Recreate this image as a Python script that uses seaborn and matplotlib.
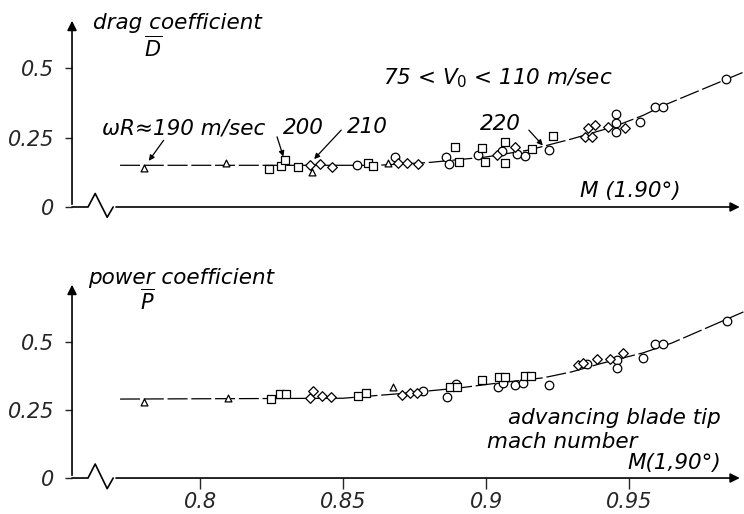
import numpy as np
import pandas as pd
import matplotlib
matplotlib.use('Agg')
import matplotlib.pyplot as plt
import seaborn as sns

# ---- data ----
# drag coefficient (top panel)
drag_circle_m = [0.8549, 0.8682, 0.8860, 0.8871, 0.8972, 0.9056, 0.9108, 0.9136, 0.9220,
                 0.9455, 0.9455, 0.9455, 0.9538, 0.9591, 0.9619, 0.9839]
drag_circle_d = [0.151, 0.180, 0.180, 0.155, 0.187, 0.201, 0.191, 0.183, 0.205,
                 0.335, 0.302, 0.270, 0.306, 0.360, 0.360, 0.460]
drag_square_m = [0.8241, 0.8283, 0.8297, 0.8343, 0.8587, 0.8605, 0.8892, 0.8906, 0.8986,
                 0.8997, 0.9066, 0.9066, 0.9161, 0.9234]
drag_square_d = [0.137, 0.147, 0.169, 0.144, 0.158, 0.147, 0.216, 0.162, 0.212,
                 0.162, 0.234, 0.158, 0.209, 0.255]
drag_diamond_m = [0.8385, 0.8420, 0.8462, 0.8692, 0.8724, 0.8762, 0.9038, 0.9101, 0.9346,
                  0.9371, 0.9357, 0.9381, 0.9427, 0.9486]
drag_diamond_d = [0.151, 0.155, 0.144, 0.158, 0.158, 0.155, 0.187, 0.216, 0.252,
                  0.252, 0.284, 0.295, 0.288, 0.284]
drag_triangle_m = [0.7804, 0.8091, 0.8392, 0.8657]
drag_triangle_d = [0.140, 0.158, 0.126, 0.158]
drag_fit_m = [0.772, 0.862, 0.880, 0.900, 0.915, 0.930, 0.945, 0.955, 0.962, 0.990]
drag_fit_d = [0.150, 0.150, 0.160, 0.180, 0.205, 0.245, 0.290, 0.330, 0.365, 0.485]

# power coefficient (bottom panel)
power_circle_m = [0.8780, 0.8864, 0.8895, 0.9042, 0.9060, 0.9101, 0.9130, 0.9220, 0.9353,
                  0.9458, 0.9458, 0.9549, 0.9590, 0.9619, 0.9843]
power_circle_p = [0.320, 0.298, 0.346, 0.335, 0.349, 0.342, 0.349, 0.342, 0.419,
                  0.434, 0.404, 0.441, 0.493, 0.493, 0.577]
power_square_m = [0.8248, 0.8280, 0.8300, 0.8553, 0.8580, 0.8874, 0.8899, 0.8986, 0.9045,
                  0.9066, 0.9136, 0.9157]
power_square_p = [0.290, 0.309, 0.309, 0.301, 0.312, 0.335, 0.335, 0.360, 0.371,
                  0.371, 0.375, 0.375]
power_diamond_m = [0.8385, 0.8395, 0.8427, 0.8458, 0.8706, 0.8734, 0.8759, 0.9322, 0.9340,
                   0.9388, 0.9434, 0.9479]
power_diamond_p = [0.294, 0.320, 0.301, 0.298, 0.305, 0.312, 0.312, 0.415, 0.423,
                   0.437, 0.437, 0.460]
power_triangle_m = [0.7804, 0.8098, 0.8675]
power_triangle_p = [0.279, 0.294, 0.335]
power_fit_m = [0.772, 0.850, 0.870, 0.890, 0.905, 0.920, 0.930, 0.940, 0.955, 0.965, 0.990]
power_fit_p = [0.290, 0.293, 0.310, 0.330, 0.350, 0.368, 0.390, 0.420, 0.460, 0.496, 0.610]

x_ticks = [0.8, 0.85, 0.9, 0.95]
x_tick_labels = ['0.8', '0.85', '0.9', '0.95']
y_ticks = [0, 0.25, 0.5]
y_tick_labels = ['0', '0.25', '0.5']

# axis break zigzag (M, fraction of a unit)
break_m = [0.7552, 0.7608, 0.7633, 0.7675, 0.7696]
break_y = [0.0, 0.0, 0.05, -0.038, 0.0]

xmin, xmax = 0.7552, 0.9902

sns.set_style('white')
plt.rcParams['font.family'] = ['DejaVu Sans']
plt.rcParams['mathtext.fontset'] = 'dejavusans'
plt.rcParams['mathtext.default'] = 'it'

fig = plt.figure(figsize=(7.44, 5.14), dpi=100)
ax_top = fig.add_axes([0.0968, 0.5973, 0.9032, 0.3677])
ax_bot = fig.add_axes([0.0968, 0.0700, 0.9032, 0.3814])

marker_style = {'circle': ('o', 38), 'square': ('s', 28), 'diamond': ('D', 24), 'triangle': ('^', 24)}


def make_frame(groups):
    parts = []
    for kind, (m, v) in groups.items():
        parts.append(pd.DataFrame({'M': m, 'val': v, 'kind': kind}))
    return pd.concat(parts, ignore_index=True)


def draw_panel(ax, df, fit_m, fit_v, ytop):
    sns.lineplot(x=fit_m, y=fit_v, color='black', lw=0.9, ax=ax, zorder=2)
    ax.lines[-1].set_dashes([16, 3])
    for kind, (mk, s) in marker_style.items():
        sub = df[df['kind'] == kind]
        if len(sub):
            sns.scatterplot(data=sub, x='M', y='val', marker=mk, s=s, color='white',
                            edgecolor='black', linewidth=0.9, ax=ax, zorder=3, legend=False)
    ax.set_xlim(xmin, xmax)
    ax.set_ylim(0, ytop)
    for sp in ax.spines.values():
        sp.set_visible(False)
    ax.set_xlabel('')
    ax.set_ylabel('')
    ax.set_yticks(y_ticks)
    ax.set_yticklabels(y_tick_labels, fontsize=15, style='italic')
    ax.tick_params(axis='y', left=True, length=5, width=1, pad=8)
    # y axis with arrow
    ax.annotate('', xy=(xmin, ytop), xytext=(xmin, 0),
                arrowprops=dict(arrowstyle='-|>', lw=1.2, color='black', mutation_scale=14),
                annotation_clip=False)
    # x axis with break and arrow
    ax.plot(break_m, [b * ytop / 0.7 for b in break_y], color='black', lw=1.2, clip_on=False)
    ax.annotate('', xy=(xmax - 0.0005, 0), xytext=(break_m[-1], 0),
                arrowprops=dict(arrowstyle='-|>', lw=1.2, color='black', mutation_scale=14),
                annotation_clip=False)


top_df = make_frame({'circle': (drag_circle_m, drag_circle_d),
                     'square': (drag_square_m, drag_square_d),
                     'diamond': (drag_diamond_m, drag_diamond_d),
                     'triangle': (drag_triangle_m, drag_triangle_d)})
bot_df = make_frame({'circle': (power_circle_m, power_circle_p),
                     'square': (power_square_m, power_square_p),
                     'diamond': (power_diamond_m, power_diamond_p),
                     'triangle': (power_triangle_m, power_triangle_p)})

draw_panel(ax_top, top_df, drag_fit_m, drag_fit_d, 0.68)
draw_panel(ax_bot, bot_df, power_fit_m, power_fit_p, 0.72)

ax_top.tick_params(axis='x', bottom=False, labelbottom=False)
ax_bot.set_xticks(x_ticks)
ax_bot.set_xticklabels(x_tick_labels, fontsize=15, style='italic')
ax_bot.tick_params(axis='x', bottom=True, length=8, width=1, pad=2)

txt = dict(style='italic', color='black', va='center', ha='left')
fs = 15.5

# top panel text
ax_top.text(0.7626, 0.662, 'drag coefficient', fontsize=fs, **txt)
ax_top.text(0.7805, 0.572, r'$\overline{D}$', fontsize=15, **txt)
ax_top.text(0.7657, 0.284, 'ωR≈190 m/sec', fontsize=fs, **txt)
ax_top.text(0.8290, 0.284, '200', fontsize=fs, **txt)
ax_top.text(0.8514, 0.288, '210', fontsize=fs, **txt)
ax_top.text(0.8979, 0.299, '220', fontsize=fs, **txt)
ax_top.text(0.8640, 0.464, r'75 < $V_0$ < 110 m/sec', fontsize=fs, **txt)
ax_top.text(0.9329, 0.058, 'M (1.90°)', fontsize=fs, **txt)

arrow = dict(arrowstyle='-|>', lw=0.9, color='black', mutation_scale=8)
ax_top.annotate('', xy=(0.7815, 0.158), xytext=(0.7878, 0.248), arrowprops=arrow)
ax_top.annotate('', xy=(0.8294, 0.172), xytext=(0.8266, 0.262), arrowprops=arrow)
ax_top.annotate('', xy=(0.8392, 0.165), xytext=(0.8500, 0.284), arrowprops=arrow)
ax_top.annotate('', xy=(0.9205, 0.214), xytext=(0.9143, 0.284), arrowprops=arrow)

# bottom panel text
ax_bot.text(0.7608, 0.735, 'power coefficient', fontsize=fs, **txt)
ax_bot.text(0.7790, 0.650, r'$\overline{P}$', fontsize=15, **txt)
ax_bot.text(0.9077, 0.220, 'advancing blade tip', fontsize=fs, **txt)
ax_bot.text(0.9003, 0.132, 'mach number', fontsize=fs, **txt)
ax_bot.text(0.9493, 0.055, 'M(1,90°)', fontsize=fs, **txt)

fig.savefig('out.png', dpi=100)
